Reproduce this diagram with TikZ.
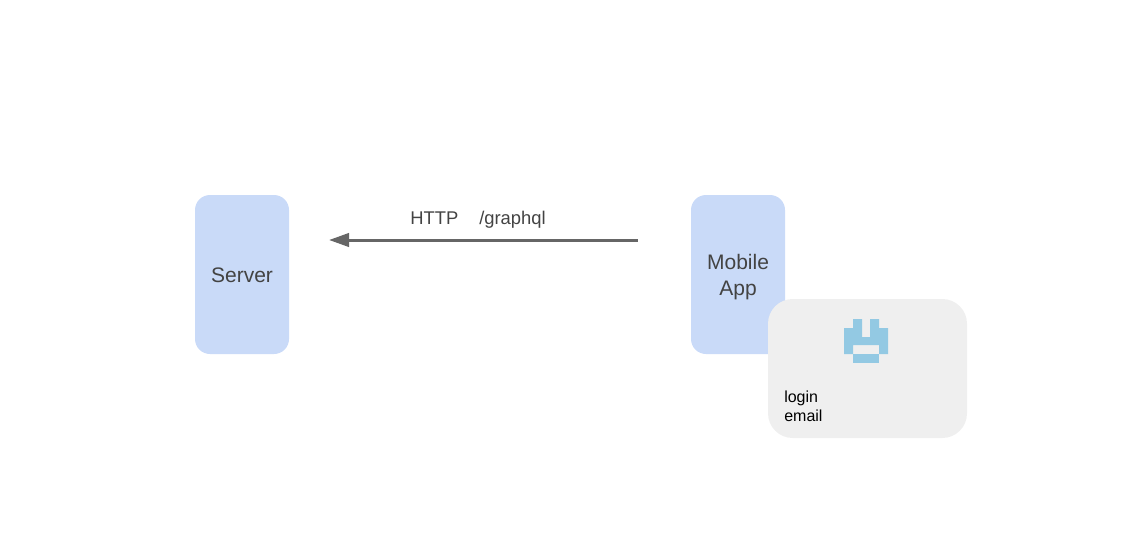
\documentclass[tikz,border=0pt]{standalone}
\usepackage{fontspec}
\setmainfont{Liberation Sans}
\usetikzlibrary{arrows.meta}
\definecolor{boxblue}{HTML}{C9DAF8}
\definecolor{cardgray}{HTML}{EFEFEF}
\definecolor{iconblue}{HTML}{93C9E3}
\definecolor{inktext}{HTML}{434343}
\definecolor{arrowgray}{HTML}{666666}
\tikzset{
  px/.style={x=0.75pt,y=-0.75pt},
  bluebox/.style={fill=boxblue,draw=none,rounded corners=11.25pt,minimum width=70.5pt,minimum height=119.25pt,inner sep=0pt},
  boxtext/.style={align=center,inner sep=0pt,text=inktext,font=\fontsize{15.75}{19.5}\selectfont},
  card/.style={fill=cardgray,draw=none,rounded corners=18.5pt,minimum width=149.25pt,minimum height=104.25pt,inner sep=0pt},
  arrowlabel/.style={text=inktext,font=\fontsize{13.8}{16}\selectfont,inner sep=0pt,anchor=base west},
  cardlabel/.style={text=black,font=\fontsize{12}{14.25}\selectfont,inner sep=0pt,align=left,anchor=north west},
  flow/.style={draw=arrowgray,line width=2.25pt,-{Triangle[length=15pt,width=10pt,fill=arrowgray]},shorten >=0pt},
}
\begin{document}
\begin{tikzpicture}[px]
\useasboundingbox (0,0) rectangle (1126,549);
\node[bluebox] (server) at (242,274.5) {};
\node[boxtext] (servertext) at (242,275.5) {Server};
\node[bluebox] (mobile) at (738,274.5) {};
\node[boxtext] (mobiletext) at (738,277.5) {Mobile\\App};
\node[card] (cardbox) at (867.5,368.5) {};
\coordinate (arrowstart) at (637.5,240);
\coordinate (arrowend) at (329,240);
\draw[flow] (arrowstart) -- (arrowend);
\node[arrowlabel] (http) at (410,224) {HTTP};
\node[arrowlabel] (graphql) at (479,224) {/graphql};
\fill[iconblue] (844,328) -- (853,328) -- (853,319) -- (862,319) -- (862,337) -- (870,337) -- (870,319) -- (879,319) -- (879,328) -- (888,328) -- (888,354) -- (879,354) -- (879,345) -- (853,345) -- (853,354) -- (844,354) -- cycle;
\fill[iconblue] (853,354) rectangle (879,363);
\node[cardlabel] (cardtext) at (784,391) {login\\email};
\end{tikzpicture}
\end{document}
